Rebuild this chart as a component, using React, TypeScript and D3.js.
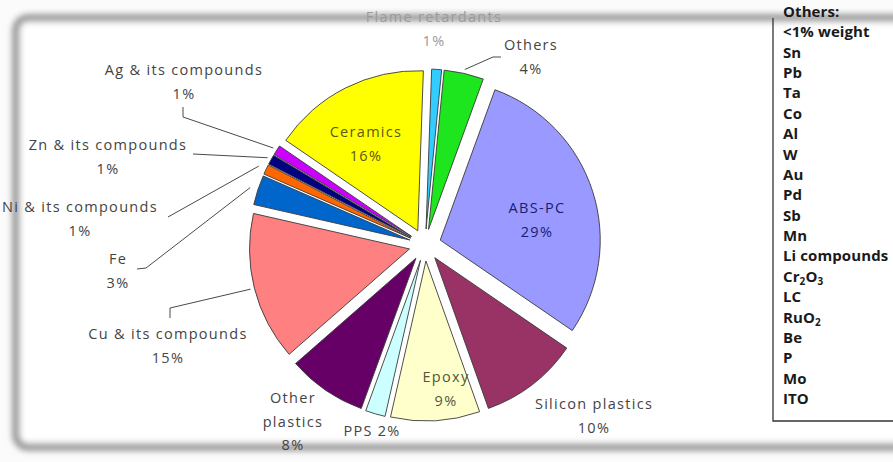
import React from "react";
import * as d3 from "d3";

const categories = [
  "Flame retardants",
  "Others",
  "ABS-PC",
  "Silicon plastics",
  "Epoxy",
  "PPS",
  "Other plastics",
  "Cu & its compounds",
  "Fe",
  "Ni & its compounds",
  "Zn & its compounds",
  "Ag & its compounds",
  "Ceramics",
];
const values = [1, 4, 29, 10, 9, 2, 8, 15, 3, 1, 1, 1, 16];
const colors = [
  "#33ccff",
  "#1ee61e",
  "#9999ff",
  "#993366",
  "#ffffcc",
  "#ccffff",
  "#660066",
  "#ff8080",
  "#0066cc",
  "#ff6600",
  "#000080",
  "#cc00ff",
  "#ffff00",
];
const legendLines = [
  "Others:",
  "<1% weight",
  "Sn",
  "Pb",
  "Ta",
  "Co",
  "Al",
  "W",
  "Au",
  "Pd",
  "Sb",
  "Mn",
  "Li compounds",
  "Cr_2O_3",
  "LC",
  "RuO_2",
  "Be",
  "P",
  "Mo",
  "ITO",
];

const W = 893;
const H = 462;
const CX = 425;
const CY = 245;
const R = 160;
const EXPLODE = 16;
const START = (2 * Math.PI) / 180;

type Layout = {
  lines: string[];
  x: number;
  y: number;
  color?: string;
  leader?: [number, number][];
  r?: number;
};

// label layout (positions only); texts come from the data arrays
function layoutFor(i: number): Layout {
  const name = categories[i];
  const pct = values[i] + "%";
  switch (i) {
    case 0:
      return { lines: [name, pct], x: 434, y: 17, color: "#9a9a9a" };
    case 1:
      return { lines: [name, pct], x: 531, y: 45, leader: [[493, 57], [501, 57]] };
    case 2:
      return { lines: [name, pct], x: 537, y: 208, color: "#1c1c70" };
    case 3:
      return { lines: [name, pct], x: 594, y: 404 };
    case 4:
      return { lines: [name, pct], x: 446, y: 377, color: "#55553a" };
    case 5:
      return { lines: [name + " " + pct], x: 372, y: 431 };
    case 6:
      return { lines: ["Other", "plastics", pct], x: 293, y: 398 };
    case 7:
      return { lines: [name, pct], x: 168, y: 334, leader: [[170, 308], [170, 318]], r: 4 };
    case 8:
      return { lines: [name, pct], x: 118, y: 259, leader: [[146, 268], [137, 269]], r: 8 };
    case 9:
      return { lines: [name, pct], x: 80, y: 207, leader: [[168, 217]], r: 8 };
    case 10:
      return { lines: [name, pct], x: 108, y: 145, leader: [[193, 154]], r: 4 };
    case 11:
      return { lines: [name, pct], x: 184, y: 70, leader: [[183, 117], [183, 107]], r: 4 };
    default:
      return { lines: [name, pct], x: 366, y: 132, color: "#5a5a10" };
  }
}

function LegendLine({ text, x, y }: { text: string; x: number; y: number }) {
  const parts = text.split(/(_\d)/).filter((p) => p.length > 0);
  return (
    <text x={x} y={y} dy="0.35em">
      {parts.map((p, k) =>
        p.startsWith("_") ? (
          <tspan key={k} fontSize={10} dy={k === 0 ? 0 : 3}>
            {p.slice(1)}
          </tspan>
        ) : (
          <tspan key={k} dy={k > 0 && parts[k - 1].startsWith("_") ? -3 : 0}>
            {p}
          </tspan>
        )
      )}
    </text>
  );
}

export default function App() {
  const pie = d3
    .pie<number>()
    .sort(null)
    .startAngle(START)
    .endAngle(START + 2 * Math.PI)
    .value((d) => d);
  const arcs = pie(values);
  const arcGen = d3.arc<d3.PieArcDatum<number>>().innerRadius(0).outerRadius(R);

  const legendY = d3.scaleLinear().domain([0, legendLines.length - 1]).range([17, 404]);

  return (
    <svg
      width={W}
      height={H}
      style={{ position: "absolute", left: 0, top: 0, background: "#ffffff" }}
      fontFamily="'Open Sans', sans-serif"
    >
      <defs>
        <filter id="blur" x="-5%" y="-5%" width="110%" height="110%">
          <feGaussianBlur stdDeviation="3" />
        </filter>
      </defs>
      <rect x={0} y={0} width={W} height={H} fill="#fbfbfb" />
      <rect
        x={16}
        y={18}
        width={930}
        height={429}
        rx={12}
        fill="#ffffff"
        stroke="#8c8c8c"
        strokeWidth={7}
        filter="url(#blur)"
      />

      {/* pie slices */}
      {arcs.map((a, i) => {
        const mid = (a.startAngle + a.endAngle) / 2;
        const dx = EXPLODE * Math.sin(mid);
        const dy = -EXPLODE * Math.cos(mid);
        return (
          <path
            key={i}
            d={arcGen(a) || ""}
            transform={`translate(${CX + dx},${CY + dy})`}
            fill={colors[i]}
            stroke="#3a3a3a"
            strokeWidth={0.9}
            strokeLinejoin="round"
          />
        );
      })}

      {/* leader lines */}
      {arcs.map((a, i) => {
        const lay = layoutFor(i);
        if (!lay.leader) return null;
        const mid = (a.startAngle + a.endAngle) / 2;
        const rr = R + EXPLODE + (lay.r || 4);
        const sx = CX + rr * Math.sin(mid);
        const sy = CY - rr * Math.cos(mid);
        const pts: [number, number][] = [[sx, sy], ...lay.leader];
        return (
          <path
            key={"l" + i}
            d={d3.line()(pts) || ""}
            fill="none"
            stroke="#4a4a4a"
            strokeWidth={1}
          />
        );
      })}

      {/* labels */}
      <g fontSize={14.5} letterSpacing={1.3} textAnchor="middle">
        {arcs.map((a, i) => {
          const lay = layoutFor(i);
          return (
            <text key={"t" + i} fill={lay.color || "#444444"}>
              {lay.lines.map((ln, k) => (
                <tspan key={k} x={lay.x} y={lay.y + k * 23.5} dy="0.35em">
                  {ln}
                </tspan>
              ))}
            </text>
          );
        })}
      </g>

      {/* "Others" side legend box */}
      <path d="M773,18 L773,421 L900,421" fill="none" stroke="#333333" strokeWidth={1.3} />
      <g fontSize={15} fontWeight={700} fill="#1a1a1a" letterSpacing={0.1}>
        {legendLines.map((ln, i) => (
          <LegendLine key={i} text={ln} x={783} y={legendY(i)} />
        ))}
      </g>
    </svg>
  );
}
